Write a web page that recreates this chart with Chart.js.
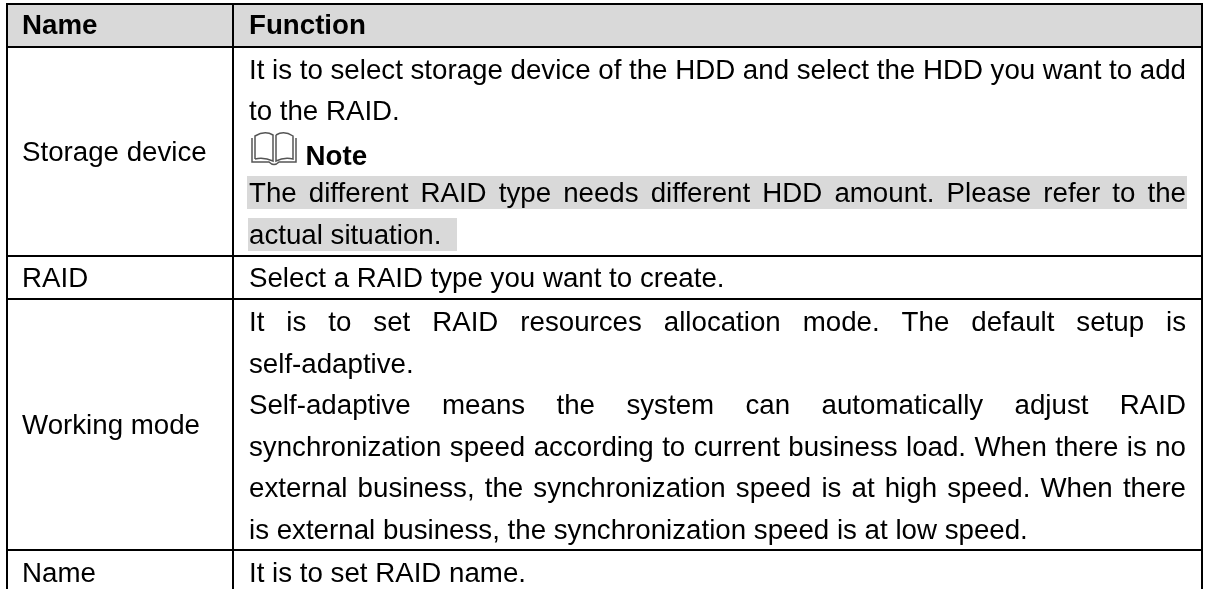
<!DOCTYPE html>
<html>
<head>
<meta charset="utf-8">
<title>RAID</title>
<script src="https://cdn.jsdelivr.net/npm/chart.js@4"></script>
<style>
    html, body { margin: 0; padding: 0; background: #fff; overflow: hidden; }
    #tabla { display: block; }
</style>
</head>
<body>
<canvas id="tabla" width="1208" height="589"></canvas>
<script>
// ===== Contenido de la tabla =====
const headers = ['Name', 'Function'];
const names = ['Storage device', 'RAID', 'Working mode', 'Name'];
const storageLines = [
    'It is to select storage device of the HDD and select the HDD you want to add',
    'to the RAID.',
    'The different RAID type needs different HDD amount. Please refer to the',
    'actual situation. '
];
const noteLabel = 'Note';
const raidLines = ['Select a RAID type you want to create.'];
const workingLines = [
    'It is to set RAID resources allocation mode. The default setup is',
    'self-adaptive.',
    'Self-adaptive means the system can automatically adjust RAID',
    'synchronization speed according to current business load. When there is no',
    'external business, the synchronization speed is at high speed. When there',
    'is external business, the synchronization speed is at low speed.'
];
const nameLines = ['It is to set RAID name.'];

// ===== Geometría =====
const colX = [7, 233, 1202];
const rowY = [4, 47, 256, 299, 550];
const fontFamily = '"Liberation Sans", Arial, sans-serif';
const fontSize = 27.7;

function textLine(ctx, text, x, y, targetWidth, bold) {
    ctx.save();
    ctx.font = (bold ? 'bold ' : '') + fontSize + 'px ' + fontFamily;
    ctx.fillStyle = '#000';
    ctx.textBaseline = 'alphabetic';
    ctx.filter = 'blur(0.4px)'; // el original es una captura algo borrosa
    if (targetWidth) {
        const spaces = text.split(' ').length - 1;
        const natural = ctx.measureText(text).width;
        ctx.wordSpacing = ((targetWidth - natural) / spaces) + 'px';
    }
    ctx.fillText(text, x, y);
    ctx.restore();
}

// icono del libro junto a "Note"
function drawBook(ctx, x, y) {
    ctx.save();
    ctx.filter = 'blur(0.4px)';
    ctx.strokeStyle = '#555';
    ctx.lineWidth = 1.5;
    ctx.beginPath();
    // paginas
    ctx.moveTo(x + 4, y + 27);
    ctx.lineTo(x + 4, y + 4);
    ctx.quadraticCurveTo(x + 14, y - 2, x + 22, y + 3);
    ctx.lineTo(x + 22, y + 29);
    ctx.quadraticCurveTo(x + 13, y + 25, x + 4, y + 27);
    ctx.moveTo(x + 25, y + 3);
    ctx.quadraticCurveTo(x + 33, y - 2, x + 42, y + 4);
    ctx.lineTo(x + 42, y + 27);
    ctx.quadraticCurveTo(x + 33, y + 25, x + 25, y + 29);
    ctx.lineTo(x + 25, y + 3);
    // tapas
    ctx.moveTo(x + 1, y + 6);
    ctx.lineTo(x + 1, y + 30);
    ctx.lineTo(x + 18, y + 30);
    ctx.quadraticCurveTo(x + 23, y + 35, x + 28, y + 30);
    ctx.lineTo(x + 45, y + 30);
    ctx.lineTo(x + 45, y + 6);
    ctx.stroke();
    ctx.restore();
}

const tablaPlugin = {
    id: 'tabla',
    beforeDatasetsDraw(chart) {
        const ctx = chart.ctx;
        ctx.save();
        ctx.fillStyle = '#d9d9d9';
        ctx.fillRect(colX[0], rowY[0], colX[2] - colX[0], rowY[1] - rowY[0]);
        ctx.fillRect(247, 176, 940, 33);
        ctx.fillRect(248, 218, 209, 33);
        ctx.restore();
    },
    afterDatasetsDraw(chart) {
        const ctx = chart.ctx;
        const leftX = 22, rightX = 249, fullWidth = 937;

        // cabecera
        textLine(ctx, headers[0], leftX, 34, 0, true);
        textLine(ctx, headers[1], rightX, 34, 0, true);

        // primera columna
        textLine(ctx, names[0], leftX, 161, 0, false);
        textLine(ctx, names[1], leftX, 287, 0, false);
        textLine(ctx, names[2], leftX, 434, 0, false);
        textLine(ctx, names[3], leftX, 582, 0, false);

        // segunda columna
        textLine(ctx, storageLines[0], rightX, 79, fullWidth, false);
        textLine(ctx, storageLines[1], rightX, 120, 0, false);
        drawBook(ctx, 251, 132);
        textLine(ctx, noteLabel, 305.5, 165, 0, true);
        textLine(ctx, storageLines[2], rightX, 202, fullWidth, false);
        textLine(ctx, storageLines[3], rightX, 244, 0, false);
        textLine(ctx, raidLines[0], rightX, 287, 0, false);
        const workingBase = [331, 373, 414, 456, 497, 539];
        workingLines.forEach((line, i) => {
            const justified = i === 0 || (i >= 2 && i <= 4);
            textLine(ctx, line, rightX, workingBase[i], justified ? fullWidth : 0, false);
        });
        textLine(ctx, nameLines[0], rightX, 582, 0, false);

        // bordes
        ctx.save();
        ctx.fillStyle = '#000';
        colX.forEach(x => ctx.fillRect(x - 1, rowY[0] - 1, 2, 589));
        rowY.forEach(y => ctx.fillRect(colX[0] - 1, y - 1, colX[2] - colX[0] + 2, 2));
        ctx.restore();
    }
};

new Chart(document.getElementById('tabla').getContext('2d'), {
    type: 'scatter',
    data: { datasets: [{ data: [] }] },
    options: {
        responsive: false,
        animation: false,
        layout: { padding: 0 },
        plugins: { legend: { display: false }, tooltip: { enabled: false } },
        scales: {
            x: { display: false, min: 0, max: 1208 },
            y: { display: false, min: 0, max: 589, reverse: true }
        }
    },
    plugins: [tablaPlugin]
});
</script>
</body>
</html>
